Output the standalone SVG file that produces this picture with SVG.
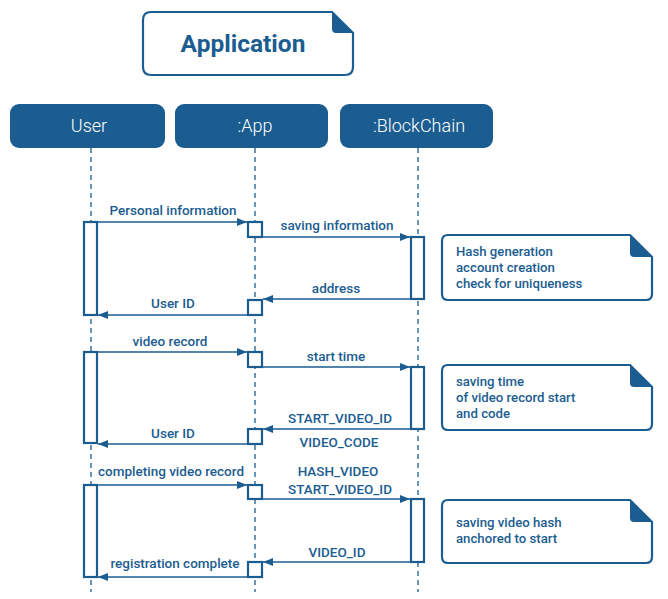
<svg xmlns="http://www.w3.org/2000/svg" width="668" height="599" viewBox="0 0 668 599">
<defs>
<style>
.hdr{fill:#1b5d91;}
.hdrt{fill:#ffffff;font-family:Roboto,"Liberation Sans",sans-serif;font-weight:300;font-size:18px;text-anchor:middle;}
.life{stroke:#1b5d91;stroke-width:1.3;stroke-dasharray:5 4;fill:none;}
.act{fill:#ffffff;stroke:#1b5d91;stroke-width:2.2;}
.msg{stroke:#1b5d91;stroke-width:1.5;fill:none;}
.lbl{fill:#1b5d91;font-family:Roboto,"Liberation Sans",sans-serif;font-weight:500;font-size:13.5px;text-anchor:middle;}
.note{fill:#ffffff;stroke:#1b5d91;stroke-width:2.2;}
.fold{fill:#1b5d91;}
.nt{fill:#1b5d91;font-family:Roboto,"Liberation Sans",sans-serif;font-weight:500;font-size:13.2px;}
</style>
<marker id="ah" viewBox="0 0 10 8" refX="10" refY="4" markerWidth="10" markerHeight="8" markerUnits="userSpaceOnUse" orient="auto">
<path d="M0,0 L10,4 L0,8 Z" fill="#1b5d91"/>
</marker>
</defs>
<rect width="668" height="599" fill="#ffffff"/>

<g id="title">
<path class="note" d="M151,12 H332 L353,33 V67 Q353,75 345,75 H151 Q143,75 143,67 V20 Q143,12 151,12 Z"/>
<path class="fold" d="M332,12 L353,33 H336 Q332,33 332,29 Z"/>
<text x="243" y="52" fill="#1b5d91" font-family="Roboto,'Liberation Sans',sans-serif" font-weight="700" font-size="24.5" text-anchor="middle">Application</text>
</g>

<g id="lifelines">
<line class="life" x1="91" y1="148" x2="91" y2="592"/>
<line class="life" x1="255" y1="148" x2="255" y2="592"/>
<line class="life" x1="418" y1="148" x2="418" y2="592"/>
</g>

<g id="user">
<rect class="hdr" x="10" y="104" width="155" height="44" rx="9"/>
<text class="hdrt" x="89" y="132">User</text>
</g>
<g id="app">
<rect class="hdr" x="175" y="104" width="153" height="44" rx="9"/>
<text class="hdrt" x="255" y="132">:App</text>
</g>
<g id="blockchain">
<rect class="hdr" x="340" y="104" width="153" height="44" rx="9"/>
<text class="hdrt" x="419" y="132">:BlockChain</text>
</g>

<g id="activations">
<rect class="act" x="84" y="222" width="13" height="93"/>
<rect class="act" x="248" y="222" width="14" height="15"/>
<rect class="act" x="411" y="237" width="13" height="62"/>
<rect class="act" x="248" y="300" width="14" height="15"/>

<rect class="act" x="84" y="352" width="13" height="91"/>
<rect class="act" x="248" y="352" width="14" height="15"/>
<rect class="act" x="411" y="367" width="13" height="62"/>
<rect class="act" x="248" y="429" width="14" height="15"/>

<rect class="act" x="84" y="485" width="13" height="92"/>
<rect class="act" x="248" y="485" width="14" height="14"/>
<rect class="act" x="411" y="499" width="13" height="63"/>
<rect class="act" x="248" y="562" width="14" height="15"/>
</g>

<g id="connectors">
<line class="msg" x1="97" y1="222" x2="247" y2="222" marker-end="url(#ah)"/>
<line class="msg" x1="262" y1="237" x2="410" y2="237" marker-end="url(#ah)"/>
<line class="msg" x1="411" y1="299" x2="263" y2="299" marker-end="url(#ah)"/>
<line class="msg" x1="248" y1="315" x2="98" y2="315" marker-end="url(#ah)"/>

<line class="msg" x1="97" y1="352" x2="247" y2="352" marker-end="url(#ah)"/>
<line class="msg" x1="262" y1="367" x2="410" y2="367" marker-end="url(#ah)"/>
<line class="msg" x1="411" y1="429" x2="263" y2="429" marker-end="url(#ah)"/>
<line class="msg" x1="248" y1="444" x2="98" y2="444" marker-end="url(#ah)"/>

<line class="msg" x1="97" y1="485" x2="247" y2="485" marker-end="url(#ah)"/>
<line class="msg" x1="262" y1="499" x2="410" y2="499" marker-end="url(#ah)"/>
<line class="msg" x1="411" y1="562" x2="263" y2="562" marker-end="url(#ah)"/>
<line class="msg" x1="248" y1="577" x2="98" y2="577" marker-end="url(#ah)"/>
</g>

<g id="labels">
<text class="lbl" x="173" y="215">Personal information</text>
<text class="lbl" x="337" y="230">saving information</text>
<text class="lbl" x="336" y="293">address</text>
<text class="lbl" x="173" y="308">User ID</text>

<text class="lbl" x="170" y="346">video record</text>
<text class="lbl" x="336" y="361">start time</text>
<text class="lbl" x="340" y="423">START_VIDEO_ID</text>
<text class="lbl" x="339" y="447">VIDEO_CODE</text>
<text class="lbl" x="173" y="438">User ID</text>

<text class="lbl" x="171" y="476">completing video record</text>
<text class="lbl" x="338" y="476">HASH_VIDEO</text>
<text class="lbl" x="340" y="494">START_VIDEO_ID</text>
<text class="lbl" x="337" y="557">VIDEO_ID</text>
<text class="lbl" x="175" y="568">registration complete</text>
</g>

<g id="note1">
<path class="note" d="M448,235 H630 L652,257 V294 Q652,300 646,300 H448 Q442,300 442,294 V241 Q442,235 448,235 Z"/>
<path class="fold" d="M630,235 L652,257 H634 Q630,257 630,253 Z"/>
<text class="nt" x="456" y="256">Hash generation</text>
<text class="nt" x="456" y="272">account creation</text>
<text class="nt" x="456" y="288">check for uniqueness</text>
</g>

<g id="note2">
<path class="note" d="M448,365 H630 L652,387 V424 Q652,430 646,430 H448 Q442,430 442,424 V371 Q442,365 448,365 Z"/>
<path class="fold" d="M630,365 L652,387 H634 Q630,387 630,383 Z"/>
<text class="nt" x="456" y="386">saving time</text>
<text class="nt" x="456" y="402">of video record start</text>
<text class="nt" x="456" y="418">and code</text>
</g>

<g id="note3">
<path class="note" d="M448,500 H630 L652,522 V557 Q652,563 646,563 H448 Q442,563 442,557 V506 Q442,500 448,500 Z"/>
<path class="fold" d="M630,500 L652,522 H634 Q630,522 630,518 Z"/>
<text class="nt" x="456" y="527">saving video hash</text>
<text class="nt" x="456" y="543">anchored to start</text>
</g>
</svg>
